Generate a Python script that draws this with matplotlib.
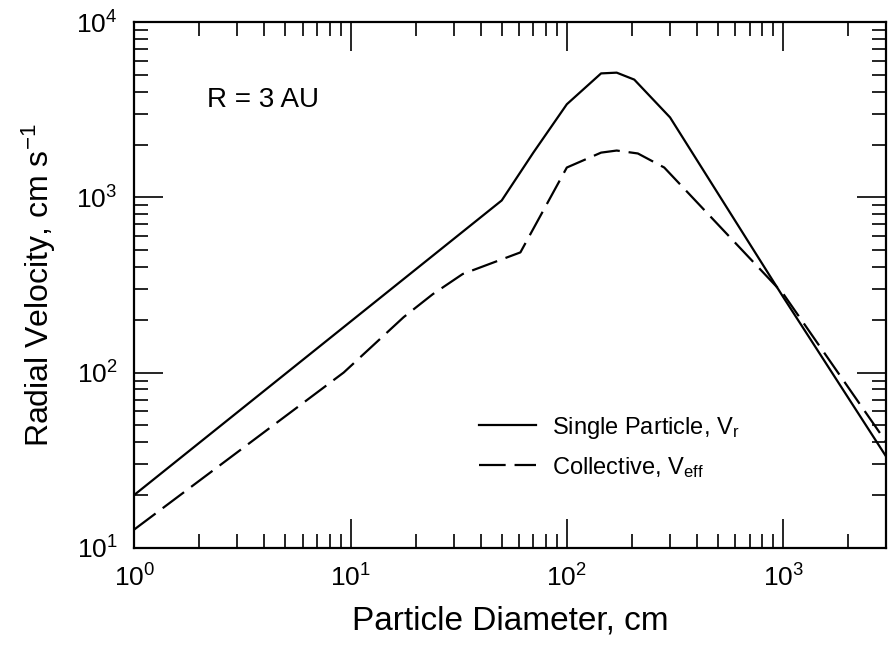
import numpy as np
import matplotlib
matplotlib.use('Agg')
import matplotlib.pyplot as plt
from matplotlib.ticker import LogLocator, NullFormatter

plt.rcParams['font.family'] = ['Liberation Sans', 'DejaVu Sans']
plt.rcParams['mathtext.fontset'] = 'custom'
plt.rcParams['mathtext.rm'] = 'Liberation Sans'
plt.rcParams['mathtext.it'] = 'Liberation Sans:italic'
plt.rcParams['mathtext.bf'] = 'Liberation Sans:bold'

# Single particle radial velocity V_r
d_single = [1, 50, 70, 100, 144, 170, 205, 300, 1000, 3000]
v_single = [20, 960, 1800, 3400, 5100, 5150, 4700, 2860, 270, 33]

# Collective velocity V_eff
d_coll = [1, 9.3, 17.6, 24, 33, 61, 100, 144, 170, 213, 282, 1000, 3000]
v_coll = [12.7, 100, 207, 280, 365, 485, 1480, 1800, 1850, 1780, 1480, 282, 40]

fig = plt.figure(figsize=(8.89, 6.52), dpi=100)
ax = fig.add_axes([0.151, 0.160, 0.846, 0.806])

ax.plot(d_single, v_single, color='black', lw=1.6, label=r'Single Particle, V$_\mathrm{r}$')
ax.plot(d_coll, v_coll, color='black', lw=1.6, dashes=(12, 4),
        label=r'Collective, V$_\mathrm{eff}$')

ax.set_xscale('log')
ax.set_yscale('log')
ax.set_xlim(1, 3000)
ax.set_ylim(10, 1e4)

ax.xaxis.set_minor_locator(LogLocator(base=10, subs=np.arange(2, 10)))
ax.yaxis.set_minor_locator(LogLocator(base=10, subs=np.arange(2, 10)))
ax.xaxis.set_minor_formatter(NullFormatter())
ax.yaxis.set_minor_formatter(NullFormatter())

ax.tick_params(which='both', direction='in', top=True, right=True, width=1.2)
ax.tick_params(which='major', length=21, labelsize=19, pad=12)
ax.tick_params(which='minor', length=10)
for s in ax.spines.values():
    s.set_linewidth(1.6)

ax.set_xlabel('Particle Diameter, cm', fontsize=24, labelpad=10)
ax.set_ylabel(r'Radial Velocity, cm s$^{\mathrm{-1}}$', fontsize=23, labelpad=13)

ax.text(0.097, 0.852, 'R = 3 AU', transform=ax.transAxes, fontsize=20,
        va='center', ha='left')

ax.legend(loc='lower left', bbox_to_anchor=(0.43, 0.089), frameon=False,
          fontsize=17, handlelength=2.4, handletextpad=0.7, labelspacing=0.6)

fig.savefig('out.png', dpi=100)
